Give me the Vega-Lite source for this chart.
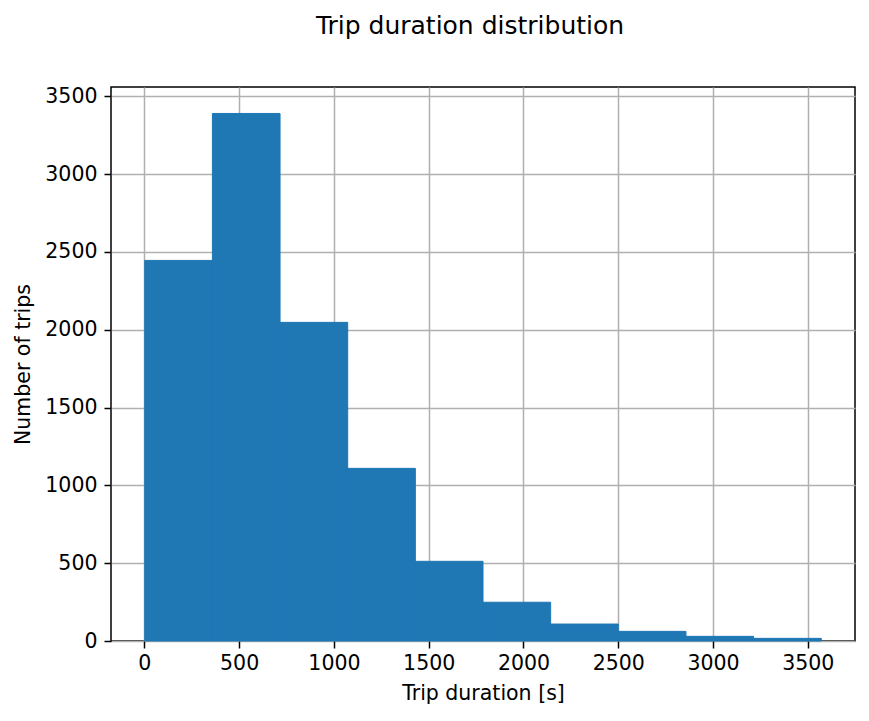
{
  "$schema": "https://vega.github.io/schema/vega-lite/v6.json",
  "autosize": "none",
  "padding": {"left": 111, "top": 87, "right": 14, "bottom": 80},
  "width": 744,
  "height": 554,
  "background": "white",
  "title": {
    "text": "Trip duration distribution",
    "font": "DejaVu Sans",
    "fontSize": 25,
    "fontWeight": "normal",
    "color": "black",
    "anchor": "middle",
    "baseline": "alphabetic",
    "dx": -13,
    "offset": 27
  },
  "data": {
    "values": [
      {"start": 2, "end": 358.9, "trips": 2445},
      {"start": 358.9, "end": 715.8, "trips": 3389},
      {"start": 715.8, "end": 1072.7, "trips": 2047},
      {"start": 1072.7, "end": 1429.6, "trips": 1109},
      {"start": 1429.6, "end": 1786.5, "trips": 512},
      {"start": 1786.5, "end": 2143.4, "trips": 249},
      {"start": 2143.4, "end": 2500.3, "trips": 109},
      {"start": 2500.3, "end": 2857.2, "trips": 62},
      {"start": 2857.2, "end": 3214.1, "trips": 30},
      {"start": 3214.1, "end": 3571, "trips": 17}
    ]
  },
  "mark": {"type": "bar", "color": "#1f77b4", "stroke": "#1f77b4", "strokeWidth": 1},
  "encoding": {
    "x": {
      "field": "start",
      "type": "quantitative",
      "scale": {"domain": [-176, 3749], "nice": false, "zero": false},
      "axis": {
        "title": "Trip duration [s]",
        "values": [0, 500, 1000, 1500, 2000, 2500, 3000, 3500],
        "format": "d",
        "labelPadding": 5,
        "titlePadding": 10
      }
    },
    "x2": {"field": "end"},
    "y": {
      "field": "trips",
      "type": "quantitative",
      "scale": {"domain": [0, 3559], "nice": false},
      "axis": {
        "title": "Number of trips",
        "values": [0, 500, 1000, 1500, 2000, 2500, 3000, 3500],
        "format": "d",
        "labelPadding": 7,
        "titlePadding": 11
      }
    },
    "y2": {"datum": 0}
  },
  "config": {
    "font": "DejaVu Sans",
    "view": {"stroke": "black", "strokeWidth": 1.5},
    "axis": {
      "zindex": 1,
      "domain": false,
      "grid": true,
      "gridColor": "#b0b0b0",
      "gridWidth": 1.5,
      "gridOpacity": 1,
      "ticks": true,
      "tickColor": "black",
      "tickSize": 7,
      "tickWidth": 1.5,
      "labelFont": "DejaVu Sans",
      "labelFontSize": 20.5,
      "labelColor": "black",
      "labelFlush": false,
      "labelOverlap": false,
      "titleFont": "DejaVu Sans",
      "titleFontSize": 20.5,
      "titleFontWeight": "normal",
      "titleColor": "black"
    }
  }
}
